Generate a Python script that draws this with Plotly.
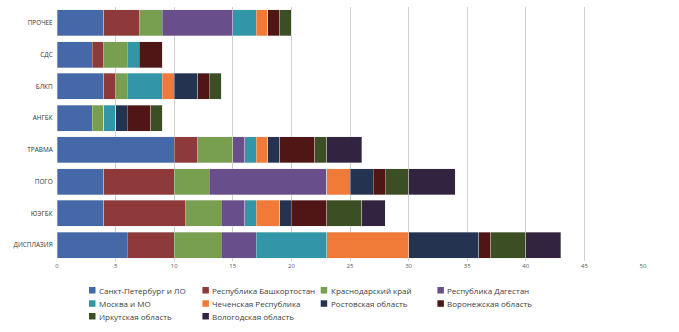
import plotly.graph_objects as go

# Categories listed bottom-to-top (Plotly draws horizontal categories upward)
categories = ["ДИСПЛАЗИЯ", "ЮЭГБК", "ПОГО", "ТРАВМА", "АНГБК", "БЛКП", "СДС", "ПРОЧЕЕ"]

regions = [
    "Санкт-Петербург и ЛО",
    "Республика Башкортостан",
    "Краснодарский край",
    "Республика Дагестан",
    "Москва и МО",
    "Чеченская Республика",
    "Ростовская область",
    "Воронежская область",
    "Иркутская область",
    "Вологодская область",
]

spb = [6, 4, 4, 10, 3, 4, 3, 4]
bashkortostan = [4, 7, 6, 2, 0, 1, 1, 3]
krasnodar = [4, 3, 3, 3, 1, 1, 2, 2]
dagestan = [3, 2, 10, 1, 0, 0, 0, 6]
moscow = [6, 1, 0, 1, 1, 3, 1, 2]
chechnya = [7, 2, 2, 1, 0, 1, 0, 1]
rostov = [6, 1, 2, 1, 1, 2, 0, 0]
voronezh = [1, 3, 1, 3, 2, 1, 2, 1]
irkutsk = [3, 3, 2, 1, 1, 1, 0, 1]
vologda = [3, 2, 4, 3, 0, 0, 0, 0]

series = [spb, bashkortostan, krasnodar, dagestan, moscow,
          chechnya, rostov, voronezh, irkutsk, vologda]

colors = ["#4468a8", "#8e3a3a", "#789f50", "#684f8c", "#3296a8",
          "#f07a38", "#243450", "#501616", "#3c4e24", "#322440"]

x_ticks = [0, 5, 10, 15, 20, 25, 30, 35, 40, 45, 50]

fig = go.Figure()
for name, vals, col in zip(regions, series, colors):
    fig.add_trace(go.Bar(
        y=categories, x=vals, name=name, orientation="h",
        marker=dict(color=col, line=dict(color="rgba(230,230,230,0.6)", width=0.6)),
        showlegend=False,
    ))

W, H = 679, 332
left, right = 57.3, 643.3
top, bottom = 7.1, 261.4

# Legend drawn as a 4-column grid of small squares with labels (paper pixels)
col_x = [89.3, 202.7, 321.0, 437.7]
row_y = [290.7, 304.0, 316.7]
sq = 6.5
shapes = []
annotations = []
for i, (name, col) in enumerate(zip(regions, colors)):
    r, c = divmod(i, 4)
    x0, yc = col_x[c], row_y[r]
    shapes.append(dict(
        type="rect", xref="paper", yref="paper",
        x0=(x0 - left) / (right - left), x1=(x0 + sq - left) / (right - left),
        y0=(bottom - (yc + sq / 2)) / (bottom - top), y1=(bottom - (yc - sq / 2)) / (bottom - top),
        fillcolor=col, line=dict(width=0),
    ))
    annotations.append(dict(
        text=name, xref="paper", yref="paper",
        x=(x0 + sq + 1.5 - left) / (right - left), y=(bottom - yc) / (bottom - top),
        xanchor="left", yanchor="middle", showarrow=False,
        font=dict(size=8, color="#404040", family="Open Sans"),
    ))

fig.update_layout(
    width=W, height=H,
    barmode="stack",
    bargap=0.18,
    plot_bgcolor="white",
    paper_bgcolor="white",
    margin=dict(l=left, r=W - right, t=top, b=H - bottom, pad=0, autoexpand=False),
    font=dict(family="Open Sans", color="#404040"),
    xaxis=dict(
        range=[0, 50], tickvals=x_ticks,
        showgrid=True, gridcolor="#cfcfcf", gridwidth=1,
        zeroline=False, showline=False,
        tickfont=dict(size=6, color="#595959"),
        ticks="", ticklen=0,
    ),
    yaxis=dict(
        showgrid=False, zeroline=False, showline=False,
        tickfont=dict(size=6.4, color="#333333", family="Open Sans"),
        ticks="", ticksuffix="  ",
    ),
    shapes=shapes,
    annotations=annotations,
    showlegend=False,
)

fig.write_html("out.html")
